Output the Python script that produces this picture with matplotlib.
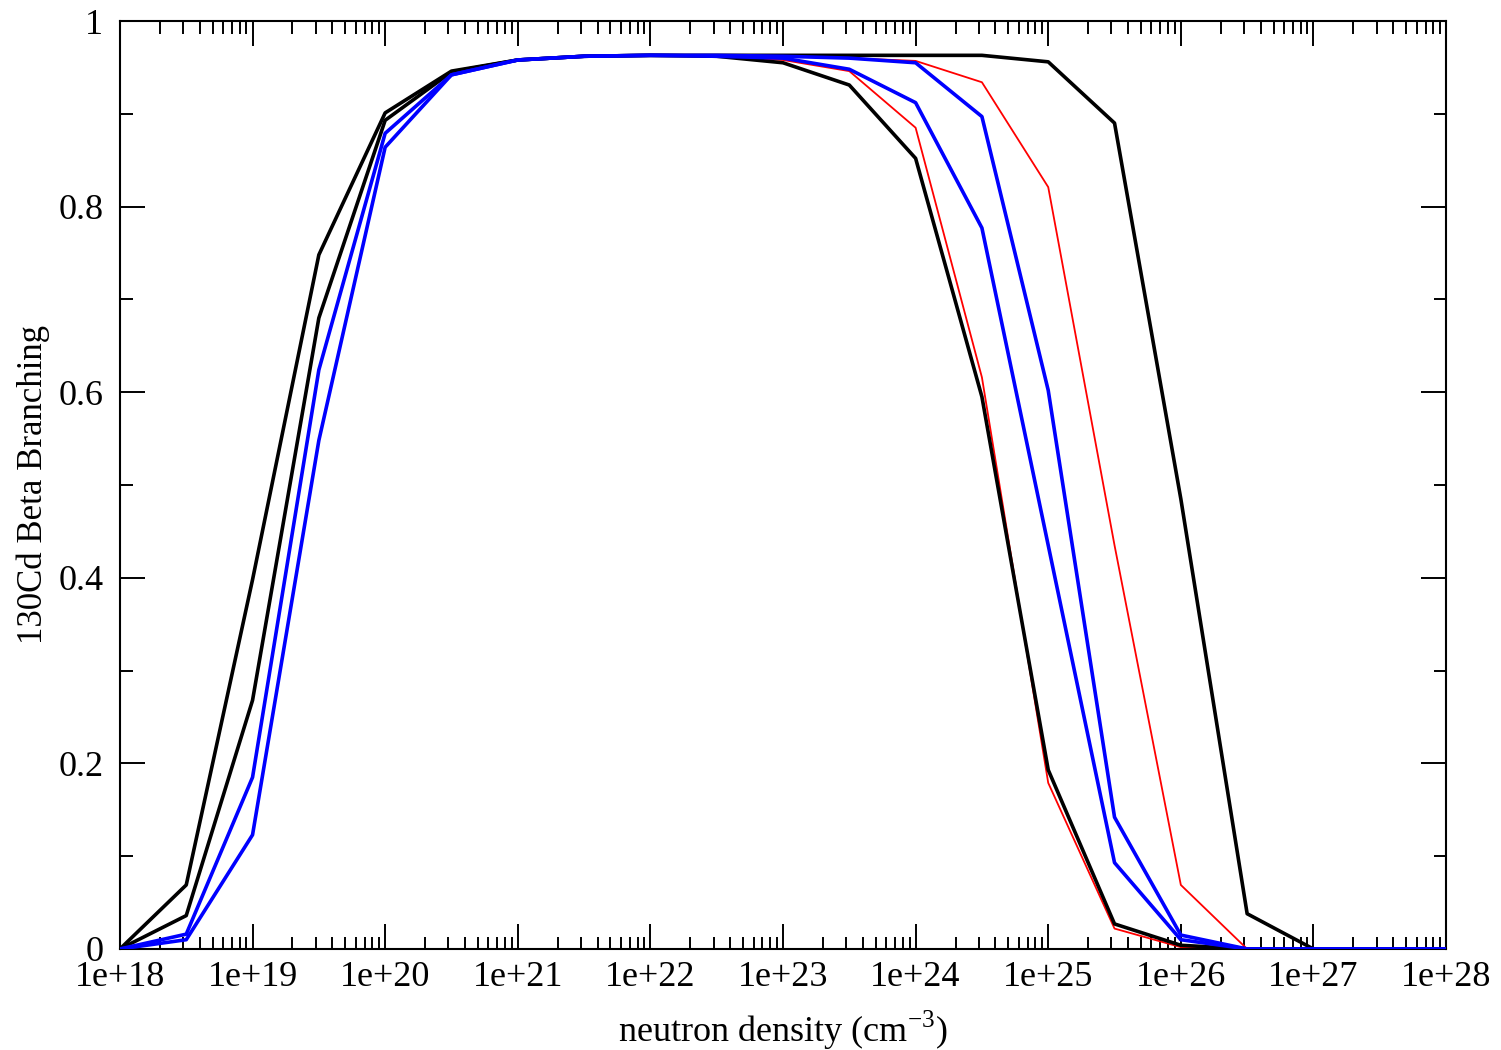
import numpy as np
import matplotlib
matplotlib.use("Agg")
import matplotlib.pyplot as plt
from matplotlib.ticker import FixedLocator, FixedFormatter, LogLocator, NullFormatter, MultipleLocator

# neutron density grid (half-decade steps)
log_density = [18, 18.5, 19, 19.5, 20, 20.5, 21, 21.5, 22, 22.5, 23, 23.5,
               24, 24.5, 25, 25.5, 26, 26.5, 27, 27.5, 28]
density = [10.0 ** v for v in log_density]

black_a = [0.0, 0.069, 0.398, 0.748, 0.901, 0.946, 0.958, 0.962, 0.963, 0.962,
           0.955, 0.931, 0.852, 0.595, 0.193, 0.027, 0.004, 0.0, 0.0, 0.0, 0.0]
black_b = [0.0, 0.036, 0.268, 0.680, 0.893, 0.945, 0.958, 0.962, 0.963, 0.963,
           0.963, 0.963, 0.963, 0.963, 0.956, 0.890, 0.485, 0.038, 0.0, 0.0, 0.0]
red_a = [0.0, 0.069, 0.398, 0.748, 0.901, 0.946, 0.958, 0.962, 0.963, 0.962,
         0.958, 0.946, 0.885, 0.616, 0.179, 0.022, 0.002, 0.0, 0.0, 0.0, 0.0]
red_b = [0.0, 0.036, 0.268, 0.680, 0.893, 0.945, 0.958, 0.962, 0.963, 0.963,
         0.962, 0.960, 0.957, 0.934, 0.821, 0.435, 0.069, 0.0, 0.0, 0.0, 0.0]
blue_a = [0.0, 0.016, 0.185, 0.624, 0.879, 0.942, 0.958, 0.962, 0.963, 0.962,
          0.960, 0.948, 0.912, 0.777, 0.435, 0.093, 0.010, 0.0, 0.0, 0.0, 0.0]
blue_b = [0.0, 0.010, 0.123, 0.548, 0.864, 0.942, 0.958, 0.962, 0.963, 0.963,
          0.962, 0.960, 0.955, 0.897, 0.602, 0.142, 0.015, 0.0, 0.0, 0.0, 0.0]

x_tick_labels = ["1e+18", "1e+19", "1e+20", "1e+21", "1e+22", "1e+23",
                 "1e+24", "1e+25", "1e+26", "1e+27", "1e+28"]
y_tick_labels = ["0", "0.2", "0.4", "0.6", "0.8", "1"]

plt.rcParams['font.family'] = ['Liberation Serif', 'DejaVu Serif']
plt.rcParams['mathtext.fontset'] = 'custom'
plt.rcParams['mathtext.rm'] = 'Liberation Serif'

fig = plt.figure(figsize=(15.01, 10.5), dpi=100)
ax = fig.add_axes([0.0799, 0.0962, 0.8835, 0.8838])

ax.plot(density, red_a, color='#ff0000', lw=1.3, zorder=2)
ax.plot(density, red_b, color='#ff0000', lw=1.3, zorder=2)
ax.plot(density, black_a, color='black', lw=2.6, zorder=3)
ax.plot(density, black_b, color='black', lw=2.6, zorder=3)
ax.plot(density, blue_a, color='#0000ff', lw=2.6, zorder=4)
ax.plot(density, blue_b, color='#0000ff', lw=2.6, zorder=4)

ax.set_xscale('log')
ax.set_xlim(1e18, 1e28)
ax.set_ylim(0, 1)

major_x = [10.0 ** k for k in range(18, 29)]
ax.xaxis.set_major_locator(FixedLocator(major_x))
ax.xaxis.set_major_formatter(FixedFormatter(x_tick_labels))
ax.xaxis.set_minor_locator(LogLocator(base=10, subs=np.arange(2, 10), numticks=100))
ax.xaxis.set_minor_formatter(NullFormatter())

ax.yaxis.set_major_locator(FixedLocator([0, 0.2, 0.4, 0.6, 0.8, 1.0]))
ax.yaxis.set_major_formatter(FixedFormatter(y_tick_labels))
ax.yaxis.set_minor_locator(MultipleLocator(0.1))

ax.tick_params(which='both', direction='in', top=True, right=True, width=1.4, colors='black')
ax.tick_params(which='major', length=18, labelsize=26)
ax.tick_params(axis='x', which='major', pad=9)
ax.tick_params(axis='y', which='major', pad=12)
ax.tick_params(which='minor', length=9)
for s in ax.spines.values():
    s.set_linewidth(1.5)

ax.set_xlabel("neutron density (cm$^{-3}$)", fontsize=26, labelpad=10)
ax.set_ylabel("130Cd Beta Branching", fontsize=25, labelpad=6)

fig.savefig("out.png", dpi=100)
